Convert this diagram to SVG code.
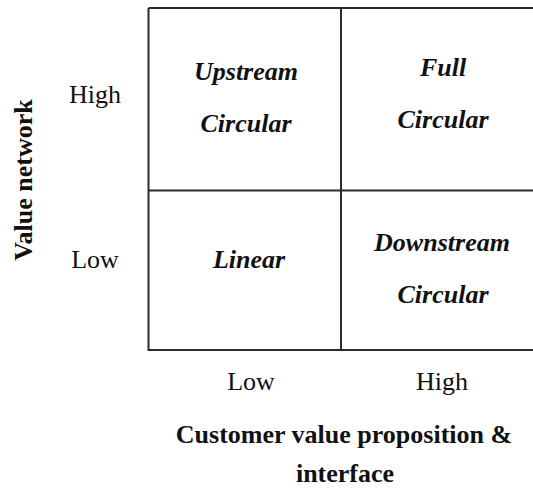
<svg xmlns="http://www.w3.org/2000/svg" width="533" height="488" viewBox="0 0 533 488">
<style>
.ln{stroke:#2b2b2b;stroke-width:2;fill:none}
.cell{font-family:"Liberation Serif","Times New Roman",serif;font-size:26px;font-weight:bold;font-style:italic;fill:#111;text-anchor:middle}
.tick{font-family:"Liberation Serif","Times New Roman",serif;font-size:26px;fill:#111;text-anchor:middle}
.axis{font-family:"Liberation Serif","Times New Roman",serif;font-size:26px;font-weight:bold;fill:#111;text-anchor:middle}
</style>
<rect width="533" height="488" fill="#fff"/>
<g id="connectors">
<path class="ln" d="M148.5 8 H533 M148.5 8 V350 H533 M341 8 V350 M148.5 190.5 H533"/>
</g>
<g id="upstream-circular"><text class="cell" x="246" y="80">Upstream</text><text class="cell" x="246" y="132">Circular</text></g>
<g id="full-circular"><text class="cell" x="443" y="76">Full</text><text class="cell" x="443" y="128">Circular</text></g>
<g id="linear"><text class="cell" x="249" y="268">Linear</text></g>
<g id="downstream-circular"><text class="cell" x="442" y="251">Downstream</text><text class="cell" x="443" y="303">Circular</text></g>
<g id="y-axis">
<text class="tick" x="95" y="103">High</text>
<text class="tick" x="95" y="268">Low</text>
<text class="axis" transform="translate(32,180) rotate(-90)">Value network</text>
</g>
<g id="x-axis">
<text class="tick" x="251" y="390">Low</text>
<text class="tick" x="442" y="390">High</text>
<text class="axis" x="344" y="443">Customer value proposition &amp;</text>
<text class="axis" x="345" y="482">interface</text>
</g>
</svg>
